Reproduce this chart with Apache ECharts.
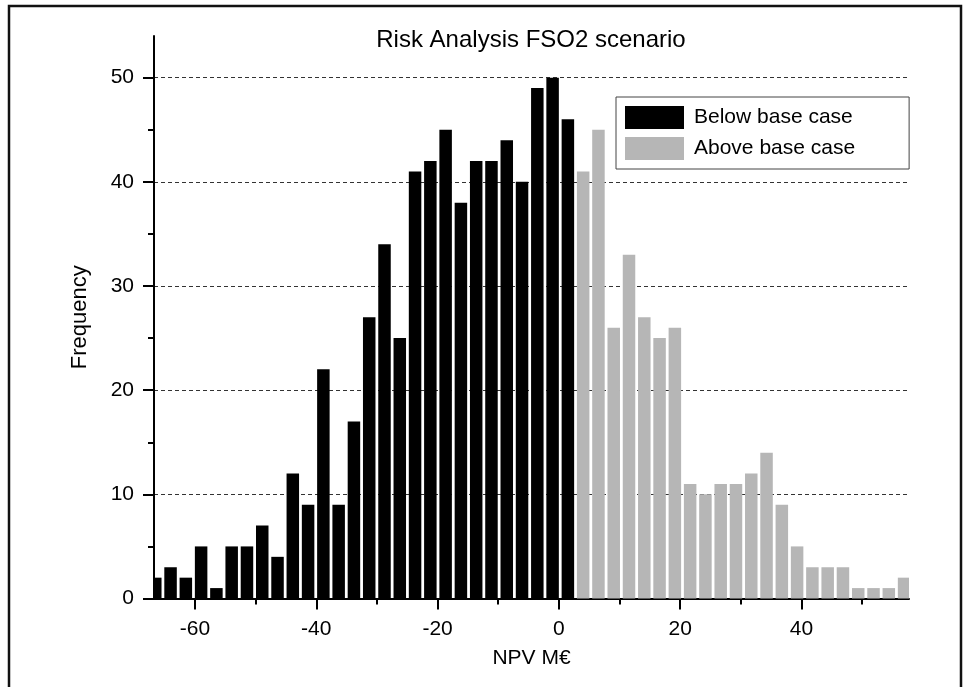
<!DOCTYPE html>
<html>
<head>
<meta charset="utf-8">
<script src="https://cdn.jsdelivr.net/npm/echarts@6/dist/echarts.min.js"></script>
<style>
html,body{margin:0;padding:0;background:#fff;}
#chart{width:969px;height:687px;}
</style>
</head>
<body>
<div id="chart"></div>
<script>
// Bin centres (NPV M€) and frequencies
const belowX = [-66.55, -64.03, -61.51, -58.99, -56.47, -53.95, -51.43, -48.91, -46.39, -43.87,
                -41.35, -38.83, -36.31, -33.79, -31.27, -28.75, -26.23, -23.71, -21.19, -18.67,
                -16.15, -13.63, -11.11, -8.59, -6.07, -3.55, -1.03, 1.49];
const belowY = [2, 3, 2, 5, 1, 5, 5, 7, 4, 12,
                9, 22, 9, 17, 27, 34, 25, 41, 42, 45,
                38, 42, 42, 44, 40, 49, 50, 46];
const aboveX = [4.01, 6.53, 9.05, 11.57, 14.09, 16.61, 19.13, 21.65, 24.17, 26.69,
                29.21, 31.73, 34.25, 36.77, 39.29, 41.81, 44.33, 46.85, 49.37, 51.89,
                54.41, 56.93];
const aboveY = [41, 45, 26, 33, 27, 25, 26, 11, 10, 11,
                11, 12, 14, 9, 5, 3, 3, 3, 1, 1,
                1, 2];
const xMajorTicks = [-60, -40, -20, 0, 20, 40];
const xMinorTicks = [-50, -30, -10, 10, 30, 50];
const yMajorTicks = [0, 10, 20, 30, 40, 50];
const yMinorTicks = [5, 15, 25, 35, 45];

const FONT = 'Liberation Sans, Arial, Helvetica, sans-serif';
const X_MIN = -66.76, X_MAX = 57.74, Y_MIN = 0, Y_MAX = 54;
const BAR_PX = 12.5;

const chart = echarts.init(document.getElementById('chart'), null, {renderer: 'canvas'});

const axisLineStyle = {color: '#000', width: 2};

// histogram bar drawn through the axes' scales, clipped to the plot area
function renderBar(params, api) {
  const x = api.value(0), y = api.value(1);
  const base = api.coord([x, 0]);
  const top = api.coord([x, y]);
  const cs = params.coordSys;
  const rect = echarts.graphic.clipRectByRect(
    {x: base[0] - BAR_PX / 2, y: top[1], width: BAR_PX, height: base[1] - top[1]},
    {x: cs.x, y: cs.y, width: cs.width, height: cs.height}
  );
  if (!rect) return null;
  return {type: 'rect', shape: rect, style: {fill: api.visual('color')}};
}

const option = {
  animation: false,
  backgroundColor: '#fff',
  textStyle: {fontFamily: FONT},
  title: {
    text: 'Risk Analysis FSO2 scenario',
    left: 531, top: 40, padding: 0,
    textAlign: 'center', textVerticalAlign: 'middle',
    textStyle: {fontFamily: FONT, fontSize: 24, fontWeight: 'normal', color: '#000'}
  },
  legend: {
    orient: 'vertical',
    left: 616, top: 97,
    padding: [9, 54, 9, 9],
    itemGap: 8,
    itemWidth: 59, itemHeight: 23,
    borderColor: '#444', borderWidth: 1, backgroundColor: '#fff',
    icon: 'rect',
    textStyle: {fontFamily: FONT, fontSize: 21, color: '#000', padding: [0, 0, 0, 5]},
    data: ['Below base case', 'Above base case']
  },
  grid: {left: 154, right: 60, top: 36, bottom: 88.5, containLabel: false},
  xAxis: [
    {
      type: 'value', min: X_MIN, max: X_MAX, position: 'bottom',
      name: 'NPV M€', nameLocation: 'middle', nameGap: 49,
      nameTextStyle: {fontFamily: FONT, fontSize: 21, color: '#000'},
      axisLine: {show: true, onZero: false, lineStyle: axisLineStyle},
      axisTick: {show: true, length: 11, lineStyle: {color: '#000', width: 2}, customValues: xMajorTicks},
      axisLabel: {show: true, margin: 20, fontFamily: FONT, fontSize: 21, color: '#000', customValues: xMajorTicks},
      splitLine: {show: false}
    },
    {
      type: 'value', min: X_MIN, max: X_MAX, position: 'bottom', offset: 0,
      axisLine: {show: false, onZero: false},
      axisTick: {show: true, length: 6, lineStyle: {color: '#000', width: 2}, customValues: xMinorTicks},
      axisLabel: {show: false},
      splitLine: {show: false}
    }
  ],
  yAxis: [
    {
      type: 'value', min: Y_MIN, max: Y_MAX, position: 'left',
      name: 'Frequency', nameLocation: 'middle', nameGap: 63, nameRotate: 90,
      nameTextStyle: {fontFamily: FONT, fontSize: 22, color: '#000'},
      axisLine: {show: true, onZero: false, lineStyle: axisLineStyle},
      axisTick: {show: true, length: 11, lineStyle: {color: '#000', width: 2}, customValues: yMajorTicks},
      axisLabel: {show: true, margin: 20, fontFamily: FONT, fontSize: 21, color: '#000', customValues: yMajorTicks},
      splitLine: {show: true, lineStyle: {color: '#333', width: 1, type: [4, 3]}}
    },
    {
      type: 'value', min: Y_MIN, max: Y_MAX, position: 'left', offset: 0,
      axisLine: {show: false, onZero: false},
      axisTick: {show: true, length: 6, lineStyle: {color: '#000', width: 2}, customValues: yMinorTicks},
      axisLabel: {show: false},
      splitLine: {show: false}
    }
  ],
  series: [
    {
      name: 'Below base case', type: 'custom',
      xAxisIndex: 0, yAxisIndex: 0, z: 3,
      renderItem: renderBar,
      itemStyle: {color: '#000'},
      encode: {x: 0, y: 1},
      data: belowX.map((x, i) => [x, belowY[i]])
    },
    {
      name: 'Above base case', type: 'custom',
      xAxisIndex: 0, yAxisIndex: 0, z: 3,
      renderItem: renderBar,
      itemStyle: {color: '#b6b6b6'},
      encode: {x: 0, y: 1},
      data: aboveX.map((x, i) => [x, aboveY[i]])
    }
  ],
  graphic: [
    {
      type: 'polyline', silent: true, z: 100,
      shape: {points: [[9, 687], [9, 6], [961, 6], [961, 687]]},
      style: {stroke: '#111', lineWidth: 2.5, fill: null}
    }
  ]
};

chart.setOption(option);
</script>
</body>
</html>
